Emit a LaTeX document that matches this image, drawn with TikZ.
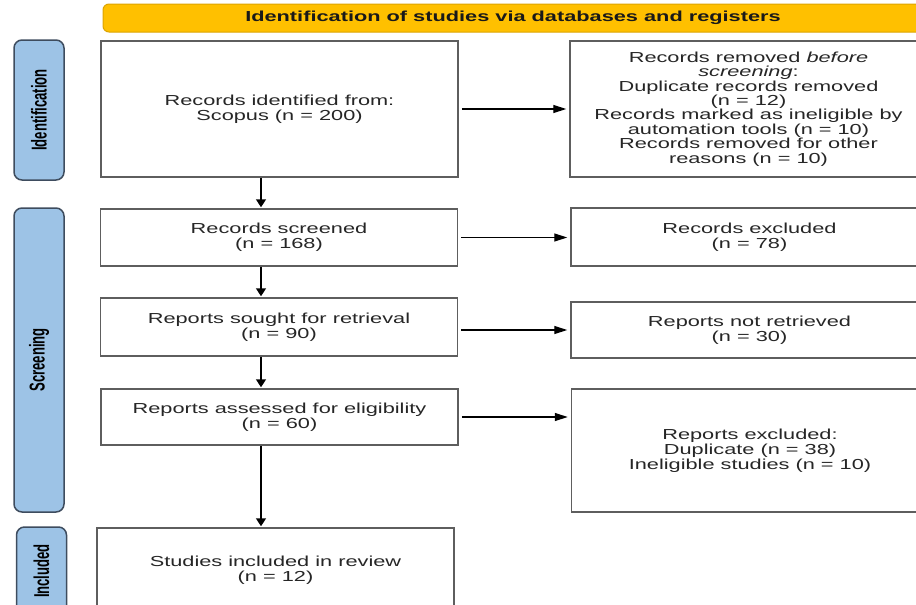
\documentclass[tikz,border=0pt]{standalone}
\usepackage{fontspec}
\setmainfont{Liberation Sans}[FakeStretch=1.5]
\newfontfamily\phasefont{Liberation Sans}[FakeStretch=0.61]
\usepackage{tikz}
\usetikzlibrary{
	positioning,
	arrows.meta
}
\definecolor{prismagold}{HTML}{FFC000}
\definecolor{goldline}{HTML}{DCA400}
\definecolor{phaseblue}{HTML}{9DC3E6}
\definecolor{phaseline}{HTML}{3E4C5E}
\definecolor{boxline}{HTML}{5E5E5E}
\definecolor{ink}{HTML}{262626}

\begin{document}
\begin{tikzpicture}[
		x=1pt, y=-1pt,
		box/.style={draw=boxline, line width=1.5pt, fill=white, align=center, text=ink,
			inner sep=0pt, minimum width=357pt, font=\fontsize{14.5}{15}\selectfont},
		phase/.style={draw=phaseline, line width=1.5pt, fill=phaseblue, rounded corners=8pt,
			rotate=90, minimum height=50pt, inner sep=0pt, text=black,
			font=\phasefont\bfseries\fontsize{21.5}{22}\selectfont},
		header/.style={draw=goldline, line width=1pt, fill=prismagold, rounded corners=6pt,
			minimum width=820pt, minimum height=28pt, inner sep=0pt, text=black!90,
			font=\bfseries\fontsize{14.5}{15}\selectfont},
		harrow/.style={-{Triangle[length=13pt,width=8pt]}, line width=1.3pt, black,
			shorten <=3pt, shorten >=3pt},
		varrow/.style={-{Triangle[length=8pt,width=10pt]}, line width=1.6pt, black,
			shorten >=1pt}
	]
	\useasboundingbox (0,0) rectangle (916,605);
	\clip (0,0) rectangle (916,605);
	\coordinate (spine) at (261,0);

	\draw
		node[header] (head) at (513,18) {Identification of studies via databases and registers}

		node[phase,minimum width=140pt] (pid) at (39,110)   {Identification}
		node[phase,minimum width=304pt] (psc) at (39,360)   {Screening}
		node[phase,minimum width=88pt]  (pin) at (41.5,571) {Included}

		node[box,minimum height=136pt] (b1) at (279.5,109) {Records identified from:\\Scopus (n = 200)}
		node[box,minimum height=57pt]  (b2) at (279,237.5) {Records screened\\(n = 168)}
		node[box,minimum height=58pt]  (b3) at (279,327)   {Reports sought for retrieval\\(n = 90)}
		node[box,minimum height=56pt]  (b4) at (279.5,417) {Reports assessed for eligibility\\(n = 60)}
		node[box,minimum height=84pt]  (b5) at (275.5,570) {Studies included in review\\(n = 12)}

		node[box,minimum height=136pt,font=\fontsize{14.5}{14.4}\selectfont] (r1) at (748.5,109)
			{Records removed \textit{before}\\\textit{screening}:\\Duplicate records removed\\(n = 12)\\
			Records marked as ineligible by\\automation tools (n = 10)\\Records removed for other\\reasons (n = 10)}
		node[box,minimum height=58pt]  (r2) at (749.5,237) {Records excluded\\(n = 78)}
		node[box,minimum height=56pt]  (r3) at (749.5,330) {Reports not retrieved\\(n = 30)}
		node[box,minimum height=123pt] (r4) at (750,450.5) {Reports excluded:\\Duplicate (n = 38)\\Ineligible studies (n = 10)}

		(b1.south -| spine) edge[varrow] (b2.north -| spine)
		(b2.south -| spine) edge[varrow] (b3.north -| spine)
		(b3.south -| spine) edge[varrow] (b4.north -| spine)
		(b4.south -| spine) edge[varrow] (b5.north -| spine)

		(b1.east) edge[harrow] (b1.east -| r1.west)
		(b2.east) edge[harrow] (b2.east -| r2.west)
		(r3.west -| b3.east) edge[harrow] (r3.west)
		(b4.east) edge[harrow] (b4.east -| r4.west)
	;
\end{tikzpicture}
\end{document}
